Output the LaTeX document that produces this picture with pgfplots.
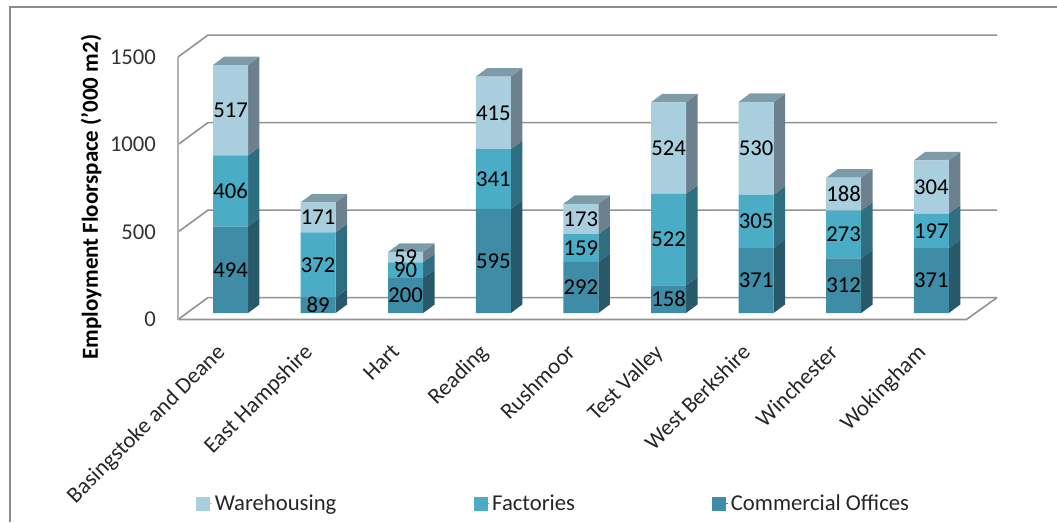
\documentclass[border=0pt]{standalone}
\usepackage{pgfplots}
\usepackage{pgfplotstable}
\usepackage{fontspec}
\setmainfont{Carlito}
\pgfplotsset{compat=1.18}

\definecolor{wallgrey}{HTML}{929292}
\definecolor{framegrey}{HTML}{8C8C8C}
\definecolor{wareFront}{HTML}{A9CEDD}
\definecolor{wareSide}{HTML}{6C818D}
\definecolor{wareTop}{HTML}{7E9BA8}
\definecolor{factFront}{HTML}{4BACC6}
\definecolor{factSide}{HTML}{2F6D80}
\definecolor{offiFront}{HTML}{3F8CA6}
\definecolor{offiSide}{HTML}{27596B}

\newcommand{\chartfont}{\fontsize{17}{20}\selectfont}

% Employment floorspace by district, '000 m2
\pgfplotstableread{
idx offices factories warehousing
0   494     406       517
1   89      372       171
2   200     90        59
3   595     341       415
4   292     159       173
5   158     522       524
6   371     305       530
7   312     273       188
8   371     197       304
}\floorspace

% Depth of a bar in data units
\newcommand{\depthx}{0.131}
\newcommand{\depthy}{48.6}
\newcommand{\halfbar}{0.2}

\newcommand{\sideface}[4]{% x of the right edge, low value, high value, colour
  \pgfmathsetmacro\xfar{#1+\depthx}
  \pgfmathsetmacro\lowfar{#2+\depthy}
  \pgfmathsetmacro\highfar{#3+\depthy}
  \addplot[fill=#4,draw=none,forget plot] coordinates
    {(#1,#2) (\xfar,\lowfar) (\xfar,\highfar) (#1,#3)} --cycle;
}

\pgfplotsset{
  /pgf/number format/1000 sep={},
  /pgf/number format/assume math mode=true,
  bar plane/.style={
    at={(107.175pt,156.75pt)},anchor=south west,
    scale only axis,width=657pt,height=196.875pt,
    xmin=-1,xmax=9,ymin=0,ymax=1500,
    hide axis,clip=false
  },
  stack labels/.style={
    nodes near coords,
    point meta=explicit,
    every node near coord/.append style={
      anchor=center,font=\chartfont,text=black,inner sep=0pt
    }
  }
}

\begin{document}
\begin{tikzpicture}
\path[use as bounding box] (0,0) rectangle (792.75pt,391.5pt);
% Outer chart frame
\draw[framegrey,line width=1.3pt] (7.5pt,0) -- (7.5pt,386pt) -- (792.75pt,386pt);

% Walls, floor, ticks, tick labels and legend
\begin{axis}[
  at={(133.5pt,151.875pt)},anchor=south west,
  scale only axis,width=614.25pt,height=213.375pt,
  xmin=0,xmax=9.349,ymin=0,ymax=1625.7,
  clip=false,
  axis x line=bottom,axis y line=left,
  axis line style={draw=none,-},
  xtick={0.5,1.5,2.5,3.5,4.5,5.5,6.5,7.5,8.5},
  xticklabels={Basingstoke and Deane,East Hampshire,Hart,Reading,Rushmoor,Test Valley,West Berkshire,Winchester,Wokingham},
  minor xtick={0,1,2,3,4,5,6,7,8,9},
  ytick={0,500,1000,1500},
  major tick length=0pt,
  minor tick length=4.5pt,
  x tick style={draw=none},
  minor x tick style={wallgrey,line width=1.2pt},
  tick align=outside,
  y tick style={wallgrey,line width=1.2pt},
  y tick label style={font=\chartfont,text=black!80,xshift=-13pt},
  x tick label style={font=\chartfont,text=black!85,rotate=45,anchor=north east,xshift=-12.4pt,yshift=-5.1pt},
  ylabel={\bfseries Employment Floorspace ('000 m2)},
  y label style={font=\fontsize{17.2}{20}\selectfont,at={(axis description cs:-0.106,0.43)},anchor=center,text=black},
  legend style={at={(axis description cs:0.022,-0.647)},anchor=west,draw=none,fill=none,
    font=\chartfont,text=black!85,legend columns=3,inner sep=0pt,
    /tikz/every even column/.append style={column sep=101pt}},
  legend cell align=left,
  legend image code/.code={\fill[#1] (0pt,-4.9pt) rectangle (9.7pt,4.9pt);\path (0pt,0pt) -- (11.5pt,0pt);},
]
\addlegendimage{wareFront,fill=wareFront}
\addlegendentry{Warehousing}
\addlegendimage{factFront,fill=factFront}
\addlegendentry{Factories}
\addlegendimage{offiFront,fill=offiFront}
\addlegendentry{Commercial Offices}

% Left wall diagonals and back gridlines
\pgfplotsinvokeforeach{0,500,1000,1500}{
  \addplot[wallgrey,line width=1.2pt,forget plot] coordinates
    {(0,#1) (0.3425,#1+125) (9.349,#1+125)};
}
% Front edge of the floor, its right edge, and the vertical axis
\addplot[wallgrey,line width=1.2pt,forget plot] coordinates {(0,0) (9,0) (9.349,125)};
\addplot[wallgrey!70,line width=1.2pt,forget plot] coordinates {(0,0) (0,1500)};
\end{axis}

% Side and top faces of each stack
\begin{axis}[bar plane]
\pgfplotsforeachungrouped \i in {0,1,2,3,4,5,6,7,8}{
  \pgfplotstablegetelem{\i}{offices}\of\floorspace \let\vo\pgfplotsretval
  \pgfplotstablegetelem{\i}{factories}\of\floorspace \let\vf\pgfplotsretval
  \pgfplotstablegetelem{\i}{warehousing}\of\floorspace \let\vw\pgfplotsretval
  \pgfmathsetmacro\xl{\i-\halfbar}
  \pgfmathsetmacro\xr{\i+\halfbar}
  \pgfmathsetmacro\ya{\vo}
  \pgfmathsetmacro\yb{\vo+\vf}
  \pgfmathsetmacro\yc{\vo+\vf+\vw}
  \sideface{\xr}{0}{\ya}{offiSide}
  \sideface{\xr}{\ya}{\yb}{factSide}
  \sideface{\xr}{\yb}{\yc}{wareSide}
  \pgfmathsetmacro\xlf{\xl+\depthx}
  \pgfmathsetmacro\xrf{\xr+\depthx}
  \pgfmathsetmacro\ytop{\yc+\depthy}
  \addplot[fill=wareTop,draw=none,forget plot] coordinates
    {(\xl,\yc) (\xr,\yc) (\xrf,\ytop) (\xlf,\ytop)} --cycle;
}
\end{axis}

% Front faces, stacked from the real values, with the value of each segment
\begin{axis}[bar plane,ybar stacked,bar width=26.25pt]
\addplot[fill=offiFront,draw=none,stack labels=offices]
  table[x=idx,y=offices,meta=offices] {\floorspace};
\addplot[fill=factFront,draw=none,stack labels=factories]
  table[x=idx,y=factories,meta=factories] {\floorspace};
\addplot[fill=wareFront,draw=none,stack labels=warehousing]
  table[x=idx,y=warehousing,meta=warehousing] {\floorspace};
\end{axis}
\end{tikzpicture}
\end{document}
